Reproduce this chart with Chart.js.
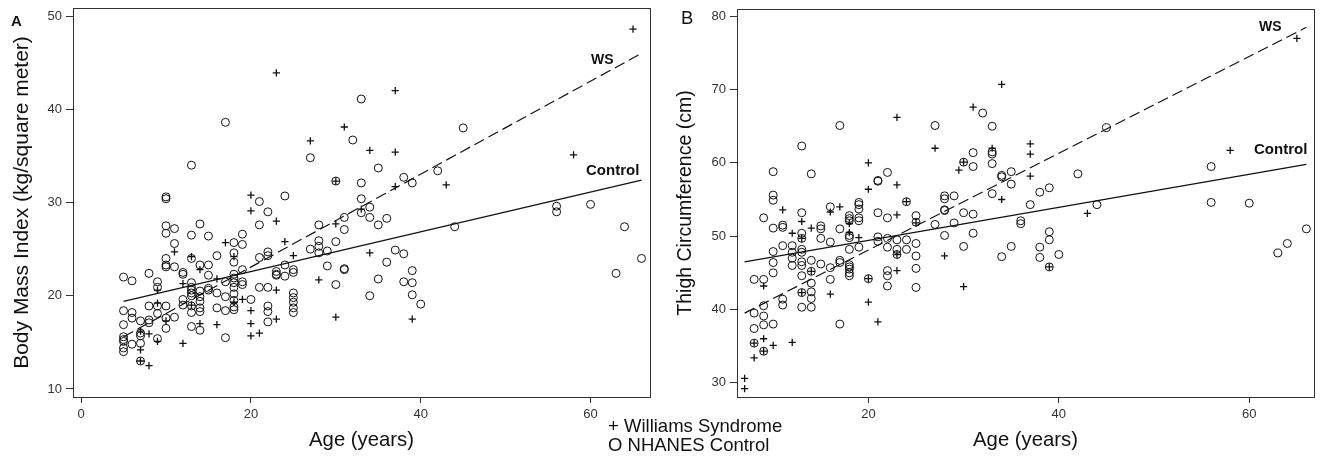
<!DOCTYPE html>
<html>
<head>
<meta charset="utf-8">
<script src="https://cdn.jsdelivr.net/npm/chart.js@4.4.1/dist/chart.umd.min.js"></script>
<style>
  body { margin:0; background:#fff; width:1323px; height:459px; position:relative; overflow:hidden;
         font-family:"Liberation Sans", Arial, sans-serif; color:#111; }
  canvas { position:absolute; top:0; }
  .lbl { position:absolute; white-space:nowrap; line-height:1; }
</style>
</head>
<body>
<canvas id="chartA" width="660" height="459" style="left:0"></canvas>
<canvas id="chartB" width="663" height="459" style="left:660px"></canvas>

<div class="lbl" style="left:11px;top:13px;font-size:15px;font-weight:bold">A</div>
<div class="lbl" style="left:681px;top:9px;font-size:18.5px">B</div>
<div class="lbl" style="left:591px;top:52px;font-size:14px;font-weight:bold">WS</div>
<div class="lbl" style="left:586px;top:162px;font-size:15px;font-weight:bold">Control</div>
<div class="lbl" style="left:1259px;top:19px;font-size:14px;font-weight:bold">WS</div>
<div class="lbl" style="left:1254px;top:141px;font-size:15px;font-weight:bold">Control</div>
<div class="lbl" style="left:608px;top:417px;font-size:18.5px">+ Williams Syndrome</div>
<div class="lbl" style="left:608px;top:436px;font-size:18.5px">O NHANES Control</div>

<script>
/* ---- data: [age, value] ---- */
const bmiControl = [
  [5,22.0],[5,18.4],[5,16.9],[5,15.6],[5,15.3],[5,15.1],[5,14.4],[5,14.0],
  [6,21.6],[6,18.2],[6,17.6],[6,14.8],
  [7,17.3],[7,16.0],[7,15.7],[7,14.9],[7,13.0],
  [8,22.4],[8,18.9],[8,17.4],[8,17.1],
  [9,21.5],[9,20.9],[9,18.9],[9,18.1],[9,15.4],
  [10,30.6],[10,30.4],[10,27.5],[10,26.7],[10,24.0],[10,23.3],[10,23.1],[10,18.9],[10,17.6],[10,16.5],
  [11,27.2],[11,25.6],[11,23.1],[11,17.7],
  [12,22.5],[12,22.3],[12,19.6],[12,19.0],
  [13,34.0],[13,26.5],[13,24.0],[13,21.4],[13,20.9],[13,20.6],[13,20.3],[13,20.0],[13,18.9],[13,18.2],[13,16.7],
  [14,27.7],[14,23.3],[14,20.5],[14,19.9],[14,19.4],[14,18.7],[14,18.3],[14,16.3],
  [15,26.4],[15,23.3],[15,22.2],[15,20.8],[15,20.6],
  [16,24.3],[16,20.3],[16,18.7],
  [17,38.6],[17,21.5],[17,19.9],[17,18.4],[17,15.5],
  [18,25.7],[18,24.6],[18,23.6],[18,22.3],[18,21.9],[18,21.4],[18,20.9],[18,20.2],[18,19.5],[18,18.8],[18,18.5],
  [19,26.6],[19,25.5],[19,22.8],[19,21.5],[19,21.2],
  [20,19.6],
  [21,30.1],[21,27.6],[21,24.1],[21,20.9],
  [22,29.0],[22,24.7],[22,24.3],[22,20.9],[22,18.9],[22,18.3],[22,17.2],
  [23,22.6],[23,22.3],[23,22.2],
  [24,30.7],[24,23.3],[24,22.1],
  [25,22.8],[25,22.5],[25,20.3],[25,19.8],[25,19.3],[25,18.7],[25,18.2],
  [27,34.8],[27,25.0],
  [28,27.6],[28,25.9],[28,25.3],[28,24.6],
  [29,24.8],[29,23.2],
  [30,32.3],[30,25.8],[30,21.2],
  [31,28.4],[31,27.1],[31,22.9],[31,22.8],
  [32,36.7],
  [33,41.1],[33,32.1],[33,30.4],[33,28.9],
  [34,29.5],[34,28.4],[34,20.0],
  [35,33.7],[35,27.6],[35,21.8],
  [36,28.3],[36,23.6],
  [37,24.9],
  [38,32.7],[38,24.5],[38,21.5],
  [39,32.1],[39,22.7],[39,21.4],[39,20.1],
  [40,19.1],[42,33.4],[44,27.4],[45,38.0],
  [56,29.6],[56,29.0],[60,29.8],[63,22.4],[64,27.4],[66,24.0]
];
const bmiWs = [
  [7,16.2],[7,14.2],[7,13.0],[8,15.9],[8,12.5],[9,20.6],[9,19.2],[9,15.1],[10,17.3],[11,24.7],
  [12,21.3],[12,14.9],[13,24.2],[13,19.0],[14,22.8],[14,17.0],[16,21.8],[16,16.9],[17,25.7],
  [18,24.2],[18,19.3],[19,19.6],[20,30.8],[20,29.1],[20,18.4],[20,17.0],[20,15.7],[21,16.0],
  [23,43.9],[23,28.0],[23,20.6],[23,17.5],[24,25.8],[25,24.3],[27,36.6],[28,21.7],
  [30,32.3],[30,27.7],[30,17.7],[31,38.1],[33,29.3],[34,35.6],[34,24.6],
  [37,42.0],[37,35.4],[37,31.7],[39,17.5],[43,31.9],[58,35.1],[65,48.6]
];
const thighControl = [
  [8,44.1],[8,39.5],[8,37.4],[8,35.4],
  [9,52.5],[9,44.1],[9,40.5],[9,39.1],[9,37.9],[9,34.3],
  [10,58.8],[10,55.6],[10,54.9],[10,51.1],[10,47.9],[10,46.4],[10,45.0],[10,38.0],
  [11,51.5],[11,51.2],[11,48.7],[11,41.4],[11,40.6],
  [12,48.7],[12,47.8],[12,47.0],[12,46.0],
  [13,62.3],[13,53.2],[13,50.4],[13,49.7],[13,48.2],[13,47.8],[13,46.5],[13,46.0],[13,44.6],[13,42.3],[13,40.3],
  [14,58.5],[14,46.7],[14,45.2],[14,43.6],[14,42.4],[14,41.5],[14,40.3],
  [15,51.4],[15,51.0],[15,49.7],[15,46.2],
  [16,54.0],[16,49.2],[16,45.7],[16,44.1],
  [17,65.1],[17,51.0],[17,46.7],[17,46.4],[17,38.0],
  [18,52.8],[18,52.4],[18,52.1],[18,50.1],[18,49.8],[18,48.2],[18,46.1],[18,45.8],[18,45.5],[18,45.0],[18,44.6],
  [19,54.6],[19,54.3],[19,53.7],[19,52.5],[19,52.1],[19,48.5],
  [20,44.2],
  [21,57.6],[21,57.5],[21,53.2],[21,49.9],[21,49.3],
  [22,58.7],[22,52.5],[22,49.7],[22,48.5],[22,45.3],[22,44.6],[22,43.2],
  [23,49.5],[23,48.2],[23,47.5],
  [24,54.7],[24,49.5],[24,48.2],
  [25,52.8],[25,51.9],[25,49.0],[25,47.3],[25,45.6],[25,43.0],
  [27,65.1],[27,51.6],
  [28,55.5],[28,55.1],[28,53.6],[28,53.5],[28,50.1],
  [29,55.5],[29,51.8],
  [30,60.1],[30,53.2],[30,48.6],
  [31,61.4],[31,59.5],[31,53.0],[31,50.4],
  [32,66.8],
  [33,65.0],[33,61.5],[33,61.2],[33,59.9],[33,55.8],
  [34,58.3],[34,58.1],[34,47.2],
  [35,58.8],[35,57.1],[35,48.6],
  [36,52.1],[36,51.7],
  [37,54.3],
  [38,56.0],[38,48.5],[38,47.1],
  [39,56.6],[39,50.6],[39,49.5],[39,45.8],
  [40,47.5],[42,58.5],[44,54.3],[45,64.8],
  [56,59.5],[56,54.6],[60,54.5],[63,47.7],[64,49.0],[66,51.0]
];
const thighWs = [
  [7,30.6],[7,29.2],[8,33.4],[8,35.4],[9,43.2],[9,36.0],[9,34.3],[10,35.1],[11,53.6],
  [12,50.4],[12,35.5],[13,52.0],[13,49.7],[13,42.3],[14,51.1],[14,45.2],[16,53.3],[16,42.1],
  [17,54.0],[18,51.7],[18,50.5],[19,49.8],[20,60.0],[20,56.4],[20,44.2],[20,41.0],[21,38.3],
  [23,66.2],[23,57.0],[23,52.9],[23,47.5],[23,45.3],[24,54.7],[25,51.8],[27,62.0],[28,47.3],
  [29.5,59.0],[30,60.1],[30,43.1],[31,67.6],[33,62.0],[34,70.7],[34,55.0],
  [37,62.6],[37,61.2],[37,58.2],[39,45.8],[43,53.1],[58,61.7],[65,77.0]
];

/* regression lines: end points */
const fitAgesA = [5, 66];
const bmiWsFit = [15.6, 46.0];
const bmiControlFit = [19.4, 32.4];
const fitAgesB = [7, 66];
const thighWsFit = [39.5, 78.5];
const thighControlFit = [46.5, 59.8];

const INK = '#111';
const AXIS = '#333';

const toXY = arr => arr.map(p => ({ x: p[0], y: p[1] }));
const fitXY = (ages, vals) => ages.map((a, i) => ({ x: a, y: vals[i] }));

// box round the plot area
const framePlugin = {
  id: 'frame',
  beforeDatasetsDraw(chart) {
    const { ctx, chartArea: a } = chart;
    ctx.save();
    ctx.strokeStyle = AXIS;
    ctx.lineWidth = 1;
    ctx.strokeRect(Math.round(a.left) + 0.5, Math.round(a.top) + 0.5,
                   Math.round(a.right - a.left), Math.round(a.bottom - a.top));
    ctx.restore();
  }
};

function makeChart(id, o) {
  const font = { family: '"Liberation Sans", Arial, sans-serif' };
  return new Chart(document.getElementById(id), {
    type: 'scatter',
    data: {
      datasets: [
        { type: 'line', data: fitXY(o.fitAges, o.wsFit), borderColor: INK, borderWidth: 1.2,
          borderDash: [11, 5], pointRadius: 0, fill: false },
        { type: 'line', data: fitXY(o.fitAges, o.ctrlFit), borderColor: INK, borderWidth: 1.2,
          pointRadius: 0, fill: false },
        { data: toXY(o.ctrl), pointStyle: 'circle', pointRadius: 4, borderWidth: 1,
          borderColor: INK, backgroundColor: 'rgba(0,0,0,0)' },
        { data: toXY(o.ws), pointStyle: 'cross', pointRadius: 3.6, borderWidth: 1.3,
          borderColor: INK, backgroundColor: INK }
      ]
    },
    options: {
      responsive: false,
      animation: false,
      layout: { padding: o.pad },
      plugins: { legend: { display: false }, tooltip: { enabled: false } },
      scales: {
        x: {
          type: 'linear', min: o.xMin, max: o.xMax,
          afterFit: s => { s.height = 62; s.paddingLeft = 0; s.paddingRight = 0; },
          border: { display: true, color: AXIS, width: 1 },
          grid: { drawOnChartArea: false, drawTicks: true, tickLength: 6, color: AXIS },
          ticks: { stepSize: 20, includeBounds: false, padding: 4, color: '#333',
                   font: { ...font, size: 13 } },
          title: { display: true, text: 'Age (years)', color: INK, padding: { top: 0, bottom: 6 },
                   font: { ...font, size: 20.3 } }
        },
        y: {
          type: 'linear', min: o.yMin, max: o.yMax,
          afterFit: s => { s.width = o.yWidth; s.paddingTop = 0; s.paddingBottom = 0; },
          border: { display: true, color: AXIS, width: 1 },
          grid: { drawOnChartArea: false, drawTicks: true, tickLength: 7, color: AXIS },
          ticks: { stepSize: 10, includeBounds: false, padding: 4, color: '#333',
                   font: { ...font, size: 13 } },
          title: { display: true, text: o.yTitle, color: INK, padding: { top: o.yTitlePad, bottom: 0 },
                   font: { ...font, size: o.yTitleSize } }
        }
      }
    },
    plugins: [framePlugin]
  });
}

makeChart('chartA', {
  ctrl: bmiControl, ws: bmiWs, fitAges: fitAgesA, wsFit: bmiWsFit, ctrlFit: bmiControlFit,
  xMin: -0.95, xMax: 67, yMin: 9.14, yMax: 50.86,
  yWidth: 73, yTitlePad: 10, yTitleSize: 21, yTitle: 'Body Mass Index (kg/square meter)',
  pad: { left: 0, right: 10, top: 8, bottom: 0 }
});

makeChart('chartB', {
  ctrl: thighControl, ws: thighWs, fitAges: fitAgesB, wsFit: thighWsFit, ctrlFit: thighControlFit,
  xMin: 6.2, xMax: 66.8, yMin: 28.05, yMax: 81.0,
  yWidth: 77, yTitlePad: 14, yTitleSize: 19.5, yTitle: 'Thigh Circumference (cm)',
  pad: { left: 0, right: 9, top: 9, bottom: 0 }
});
</script>
</body>
</html>
